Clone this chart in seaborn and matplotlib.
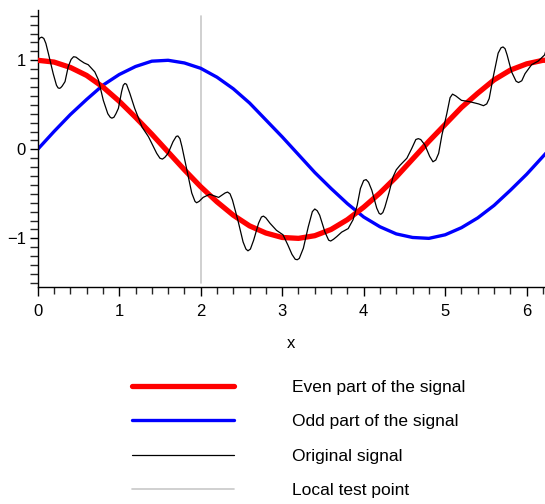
import matplotlib
matplotlib.use("Agg")
import matplotlib.pyplot as plt
from matplotlib.ticker import MultipleLocator, FixedLocator
import seaborn as sns
import pandas as pd

# ---- data ----
grid_x = [0.0, 0.2, 0.4, 0.6, 0.8, 1.0, 1.2, 1.4, 1.6, 1.8, 2.0, 2.2, 2.4, 2.6, 2.8,
          3.0, 3.2, 3.4, 3.6, 3.8, 4.0, 4.2, 4.4, 4.6, 4.8, 5.0, 5.2, 5.4, 5.6, 5.8,
          6.0, 6.2, 6.28]
even_part = [1.00, 0.98, 0.92, 0.83, 0.70, 0.54, 0.36, 0.17, -0.03, -0.23, -0.42,
             -0.59, -0.74, -0.86, -0.94, -0.99, -1.00, -0.97, -0.90, -0.79, -0.65,
             -0.49, -0.31, -0.11, 0.09, 0.28, 0.47, 0.63, 0.78, 0.89, 0.96, 1.00, 1.00]
odd_part = [0.00, 0.20, 0.39, 0.56, 0.72, 0.84, 0.93, 0.99, 1.00, 0.97, 0.91, 0.81,
            0.68, 0.52, 0.33, 0.14, -0.06, -0.26, -0.44, -0.61, -0.76, -0.87, -0.95,
            -0.99, -1.00, -0.96, -0.88, -0.77, -0.63, -0.46, -0.28, -0.08, 0.00]

signal_x = [0.00, 0.025, 0.05, 0.075, 0.10, 0.13, 0.19, 0.23, 0.25, 0.265, 0.28, 0.30,
            0.335, 0.375, 0.41, 0.44, 0.47, 0.52, 0.57, 0.62, 0.70, 0.745, 0.805, 0.86,
            0.89, 0.91, 0.935, 0.96, 0.99, 1.03, 1.05, 1.07, 1.09, 1.13, 1.19, 1.28,
            1.36, 1.42, 1.46, 1.50, 1.53, 1.56, 1.60, 1.66, 1.70, 1.72, 1.745, 1.77,
            1.83, 1.89, 1.93, 1.95, 1.98, 2.03, 2.11, 2.22, 2.30, 2.33, 2.36, 2.39,
            2.46, 2.52, 2.555, 2.58, 2.61, 2.65, 2.71, 2.745, 2.77, 2.80, 2.85, 2.93,
            3.01, 3.07, 3.12, 3.16, 3.185, 3.21, 3.26, 3.32, 3.37, 3.40, 3.43, 3.46,
            3.525, 3.57, 3.595, 3.63, 3.67, 3.73, 3.81, 3.87, 3.92, 3.96, 4.00, 4.03,
            4.06, 4.10, 4.16, 4.19, 4.21, 4.235, 4.26, 4.31, 4.36, 4.40, 4.445, 4.53,
            4.59, 4.64, 4.67, 4.70, 4.75, 4.81, 4.85, 4.885, 4.92, 4.96, 5.02, 5.06,
            5.09, 5.13, 5.20, 5.30, 5.41, 5.47, 5.51, 5.54, 5.59, 5.65, 5.685, 5.71,
            5.735, 5.76, 5.815, 5.87, 5.90, 5.94, 5.98, 6.06, 6.14, 6.22, 6.26]
signal_y = [1.21, 1.25, 1.26, 1.245, 1.19, 1.08, 0.85, 0.72, 0.69, 0.685, 0.69, 0.71,
            0.76, 0.93, 1.01, 1.04, 1.035, 1.00, 0.97, 0.95, 0.87, 0.78, 0.55, 0.40,
            0.36, 0.35, 0.36, 0.40, 0.46, 0.65, 0.72, 0.74, 0.73, 0.63, 0.46, 0.25,
            0.14, 0.03, -0.045, -0.10, -0.11, -0.09, -0.045, 0.085, 0.145, 0.15, 0.12, 0.03,
            -0.23, -0.49, -0.585, -0.60, -0.585, -0.54, -0.505, -0.54, -0.49, -0.48, -0.50, -0.57,
            -0.81, -1.04, -1.12, -1.14, -1.12, -1.02, -0.83, -0.76, -0.75, -0.77, -0.83, -0.91,
            -0.96, -1.075, -1.18, -1.235, -1.24, -1.225, -1.11, -0.87, -0.70, -0.67, -0.69, -0.74,
            -0.93, -1.02, -1.03, -1.01, -0.98, -0.93, -0.89, -0.79, -0.63, -0.44, -0.35, -0.34,
            -0.37, -0.46, -0.66, -0.72, -0.73, -0.71, -0.65, -0.49, -0.31, -0.23, -0.18, -0.10,
            0.01, 0.11, 0.12, 0.11, 0.05, -0.08, -0.14, -0.12, -0.045, 0.16, 0.40, 0.58,
            0.62, 0.60, 0.55, 0.535, 0.51, 0.49, 0.51, 0.57, 0.815, 1.08, 1.14, 1.15,
            1.13, 1.06, 0.87, 0.765, 0.75, 0.77, 0.85, 0.95, 0.99, 1.06, 1.18]

test_x = [2.0, 2.0]
test_y = [-1.5, 1.5]

labels = ["Even part of the signal", "Odd part of the signal",
          "Original signal", "Local test point"]
x_ticks = [0, 1, 2, 3, 4, 5, 6]
y_ticks = [-1, 0, 1]

# ---- styling ----
sns.set_theme(style="ticks")
plt.rcParams["font.family"] = ["Liberation Sans", "DejaVu Sans"]
plt.rcParams["axes.unicode_minus"] = True
plt.rcParams["text.color"] = "black"
plt.rcParams["axes.labelcolor"] = "black"

fig = plt.figure(figsize=(5.45, 5.04), dpi=100)
ax = fig.add_axes([0.0692, 0.4299, 0.9308, 0.5503])

curves = pd.DataFrame({"x": grid_x, "even": even_part, "odd": odd_part})
sig = pd.DataFrame({"x": signal_x, "y": signal_y})
tp = pd.DataFrame({"x": test_x, "y": test_y})

sns.lineplot(data=tp, x="x", y="y", ax=ax, color="#c8c8c8", linewidth=1.2,
             estimator=None, sort=False, label=labels[3], zorder=1)
sns.lineplot(data=curves, x="x", y="odd", ax=ax, color="#0000ff", linewidth=2.4,
             estimator=None, sort=False, label=labels[1], zorder=2,
             solid_capstyle="round")
sns.lineplot(data=curves, x="x", y="even", ax=ax, color="#ff0000", linewidth=3.8,
             estimator=None, sort=False, label=labels[0], zorder=3,
             solid_capstyle="round")
sns.lineplot(data=sig, x="x", y="y", ax=ax, color="black", linewidth=0.9,
             estimator=None, sort=False, label=labels[2], zorder=4,
             solid_joinstyle="round")

ax.set_xlim(0, 6.225)
ax.set_ylim(-1.55, 1.565)

ax.xaxis.set_major_locator(FixedLocator(x_ticks))
ax.xaxis.set_minor_locator(MultipleLocator(0.2))
ax.yaxis.set_major_locator(FixedLocator(y_ticks))
ax.yaxis.set_minor_locator(MultipleLocator(0.1))

ax.tick_params(axis="x", which="major", length=6.7, width=1.0, pad=5.5,
               labelsize=12, colors="black", direction="out")
ax.tick_params(axis="x", which="minor", length=4.8, width=1.0, direction="out")
ax.tick_params(axis="y", which="major", length=5.5, width=1.0, pad=3,
               labelsize=12, colors="black", direction="out")
ax.tick_params(axis="y", which="minor", length=5.5, width=1.0, direction="out")

for s in ["top", "right"]:
    ax.spines[s].set_visible(False)
for s in ["left", "bottom"]:
    ax.spines[s].set_color("black")
    ax.spines[s].set_linewidth(1.0)

ax.set_xlabel("x", fontsize=12, labelpad=12, color="black")
ax.set_ylabel("")

handles, labs = ax.get_legend_handles_labels()
order = [labs.index(l) for l in labels]
ax.get_legend().remove()
leg = fig.legend([handles[i] for i in order], [labs[i] for i in order],
                 loc="upper left", bbox_to_anchor=(132 / 545, 1 - 379.5 / 504),
                 frameon=False, fontsize=12.5, handlelength=5.86,
                 handletextpad=3.33, labelspacing=1.12, borderpad=0,
                 borderaxespad=0)
for t in leg.get_texts():
    t.set_color("black")

fig.savefig("out.png", dpi=100)
